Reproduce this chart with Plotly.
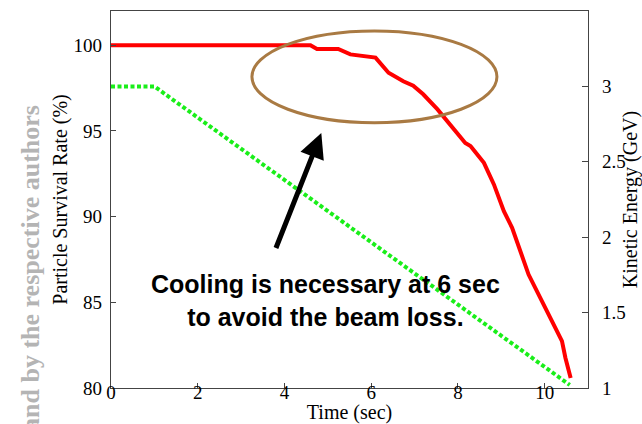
import plotly.graph_objects as go

# Particle survival rate (%) vs time (sec)
time_survival = [0, 4.6, 4.75, 5.24, 5.52, 6.1, 6.4, 6.74, 6.97, 7.2, 7.53, 7.76, 7.94,
                 8.17, 8.29, 8.6, 8.83, 9.06, 9.25, 9.44, 9.63, 9.94, 10.17, 10.4, 10.48, 10.6]
survival = [100, 100, 99.78, 99.78, 99.47, 99.28, 98.4, 97.9, 97.64, 97.14, 96.26, 95.58, 94.99,
            94.3, 94.12, 93.14, 91.88, 90.32, 89.35, 87.98, 86.62, 85.06, 83.9, 82.73, 81.75, 80.58]

# Kinetic energy (GeV) vs time (sec)
time_energy = [0, 1, 10.58]
energy = [3.0, 3.0, 1.02]

x_ticks = [0, 2, 4, 6, 8, 10]
y_ticks = [80, 85, 90, 95, 100]
y2_ticks = [1, 1.5, 2, 2.5, 3]
y2_ticktext = ["1", "1.5", "2", "2.5", "3"]

serif = "Liberation Serif"
axis_col = "#444444"

fig = go.Figure()
fig.add_trace(go.Scatter(x=time_survival, y=survival, mode="lines",
                         line=dict(color="#ff0000", width=4), yaxis="y", showlegend=False))
fig.add_trace(go.Scatter(x=time_energy, y=energy, mode="lines",
                         line=dict(color="#1aee1a", width=4, dash="4px,2.5px"),
                         yaxis="y2", showlegend=False))

fig.update_layout(
    width=642, height=424,
    margin=dict(l=111, r=54, t=11, b=36),
    paper_bgcolor="white", plot_bgcolor="white",
    font=dict(family=serif, size=19, color="black"),
    xaxis=dict(range=[0, 11], tickvals=x_ticks, ticks="inside", ticklen=5,
               tickcolor=axis_col, showline=True, linecolor=axis_col, linewidth=1.3,
               mirror=True, showgrid=False, zeroline=False, automargin=False,
               ticklabelstandoff=-13,
               tickfont=dict(family=serif, size=19),
               title=dict(text="Time (sec)", font=dict(family=serif, size=20), standoff=4)),
    yaxis=dict(range=[80, 102], tickvals=y_ticks, ticks="inside", ticklen=5,
               tickcolor=axis_col, showline=True, linecolor=axis_col, linewidth=1.3,
               showgrid=False, zeroline=False, ticklabelstandoff=4, automargin=False,
               tickfont=dict(family=serif, size=19),
               title=dict(text="Particle Survival Rate (%)", font=dict(family=serif, size=20),
                          standoff=0)),
    yaxis2=dict(range=[1, 3.5], tickvals=y2_ticks, ticktext=y2_ticktext, overlaying="y",
                side="right", ticks="inside", ticklen=6, tickcolor=axis_col,
                showline=True, linecolor=axis_col, linewidth=1.3, showgrid=False,
                zeroline=False, ticklabelstandoff=9, automargin=False,
                tickfont=dict(family=serif, size=19),
                title=dict(text="Kinetic Energy (GeV)", font=dict(family=serif, size=20),
                           standoff=3)),
)

# Brown ellipse highlighting the onset of loss
fig.add_shape(type="circle", xref="x", yref="y", x0=3.25, x1=8.9, y0=95.48, y1=100.84,
              line=dict(color="#a97a43", width=3))

# Arrow
fig.add_annotation(x=4.85, y=94.88, ax=3.79, ay=88.08, xref="x", yref="y",
                   axref="x", ayref="y", text="", showarrow=True,
                   arrowhead=2, arrowsize=1.0, arrowwidth=5, arrowcolor="black")

# Message
fig.add_annotation(x=(325 - 111) / 477, y=(388 - 300) / 377, xref="paper", yref="paper",
                   xanchor="center", yanchor="middle",
                   text="Cooling is necessary at 6 sec<br>to avoid the beam loss.",
                   showarrow=False, align="center",
                   font=dict(family="Liberation Sans", size=25, color="black", weight="bold"))

# Watermark at left edge
fig.add_annotation(x=(30 - 111) / 477, y=(388 - 268) / 377, xref="paper", yref="paper",
                   xanchor="center", yanchor="middle",
                   text="and by the respective authors", textangle=-90, showarrow=False,
                   font=dict(family=serif, size=26, color="#b4b4b4", weight="bold"))

fig.write_html("out.html")
